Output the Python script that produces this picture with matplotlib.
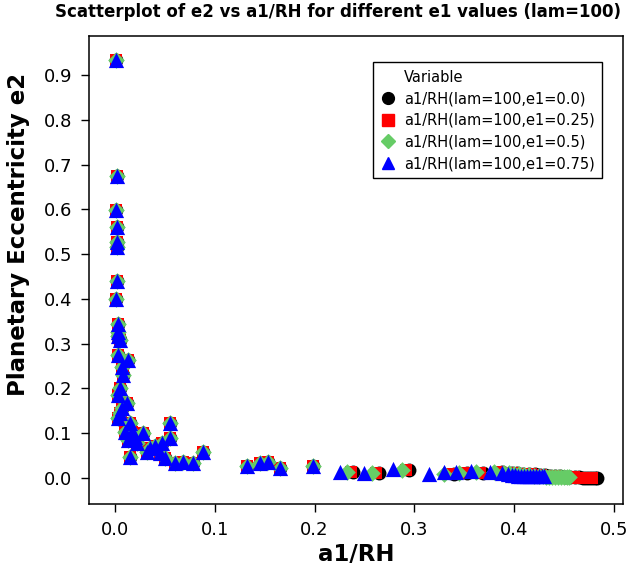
import matplotlib
matplotlib.use("Agg")
import matplotlib.pyplot as plt
from matplotlib.lines import Line2D

# points shared by all four e1 series (they sit on top of each other)
shared_x = [0.001, 0.002, 0.001, 0.002, 0.002, 0.002, 0.002, 0.001, 0.003, 0.003,
            0.005, 0.003, 0.003, 0.013, 0.007, 0.008, 0.005, 0.003, 0.012, 0.007,
            0.003, 0.005, 0.015, 0.010, 0.017, 0.028, 0.013, 0.022, 0.020, 0.035,
            0.032, 0.040, 0.015, 0.047, 0.055, 0.055, 0.045, 0.050, 0.060, 0.068,
            0.078, 0.088, 0.132, 0.145, 0.153, 0.165, 0.198]
shared_y = [0.933, 0.675, 0.598, 0.561, 0.527, 0.516, 0.440, 0.400, 0.345, 0.327,
            0.308, 0.318, 0.275, 0.263, 0.248, 0.230, 0.200, 0.185, 0.167, 0.156,
            0.134, 0.145, 0.122, 0.103, 0.103, 0.100, 0.085, 0.078, 0.092, 0.067,
            0.059, 0.072, 0.048, 0.078, 0.122, 0.089, 0.055, 0.045, 0.033, 0.036,
            0.033, 0.059, 0.027, 0.033, 0.036, 0.022, 0.027]

# tails where the series split apart at large a1/RH
e1_00_x = [0.238, 0.265, 0.295, 0.340, 0.353, 0.369, 0.388, 0.398, 0.403, 0.409,
           0.415, 0.421, 0.426, 0.431, 0.436, 0.441, 0.446, 0.451, 0.456, 0.461,
           0.465, 0.469, 0.472, 0.475, 0.478, 0.481, 0.483]
e1_00_y = [0.014, 0.012, 0.019, 0.008, 0.012, 0.012, 0.013, 0.011, 0.011, 0.010,
           0.009, 0.008, 0.007, 0.006, 0.005, 0.004, 0.004, 0.003, 0.003, 0.002,
           0.002, 0.001, 0.001, 0.001, 0.001, 0.000, 0.000]
e1_25_x = [0.236, 0.262, 0.292, 0.337, 0.350, 0.366, 0.385, 0.395, 0.400, 0.406,
           0.412, 0.417, 0.422, 0.427, 0.432, 0.437, 0.442, 0.447, 0.452, 0.456,
           0.460, 0.464, 0.468, 0.471, 0.474, 0.476, 0.478]
e1_25_y = [0.014, 0.012, 0.019, 0.008, 0.012, 0.012, 0.013, 0.011, 0.011, 0.010,
           0.009, 0.008, 0.007, 0.006, 0.005, 0.004, 0.004, 0.003, 0.003, 0.002,
           0.002, 0.001, 0.001, 0.001, 0.001, 0.001, 0.001]
e1_50_x = [0.232, 0.258, 0.288, 0.330, 0.345, 0.362, 0.380, 0.390, 0.395, 0.400,
           0.405, 0.410, 0.415, 0.420, 0.425, 0.429, 0.432, 0.435, 0.438, 0.441,
           0.444, 0.447, 0.450, 0.453, 0.455]
e1_50_y = [0.014, 0.012, 0.019, 0.009, 0.012, 0.013, 0.013, 0.012, 0.011, 0.009,
           0.008, 0.007, 0.006, 0.005, 0.004, 0.004, 0.003, 0.003, 0.003, 0.002,
           0.002, 0.002, 0.002, 0.002, 0.002]
e1_75_x = [0.225, 0.250, 0.279, 0.315, 0.330, 0.342, 0.357, 0.376, 0.388, 0.394,
           0.398, 0.401, 0.404, 0.407, 0.410, 0.413, 0.416, 0.419, 0.422, 0.425,
           0.428, 0.430]
e1_75_y = [0.014, 0.012, 0.020, 0.009, 0.013, 0.013, 0.016, 0.014, 0.011, 0.008,
           0.006, 0.006, 0.005, 0.005, 0.005, 0.004, 0.004, 0.004, 0.004, 0.004,
           0.004, 0.004]

labels = ["a1/RH(lam=100,e1=0.0)", "a1/RH(lam=100,e1=0.25)",
          "a1/RH(lam=100,e1=0.5)", "a1/RH(lam=100,e1=0.75)"]
x_ticks = [0.0, 0.1, 0.2, 0.3, 0.4, 0.5]
y_ticks = [0.0, 0.1, 0.2, 0.3, 0.4, 0.5, 0.6, 0.7, 0.8, 0.9]

series = [(e1_00_x, e1_00_y), (e1_25_x, e1_25_y), (e1_50_x, e1_50_y), (e1_75_x, e1_75_y)]
colors = ["black", "#ff0000", "#66cc66", "#0000ff"]
markers = ["o", "s", "D", "^"]
sizes = [100, 72, 72, 120]

plt.rcParams["font.family"] = "DejaVu Sans"

fig = plt.figure(figsize=(6.3, 5.75), dpi=100)
ax = fig.add_axes([0.1413, 0.1235, 0.8476, 0.8139])

handles = [Line2D([], [], linestyle="none", marker="")]
for (tx, ty), c, m, s, lab in zip(series, colors, markers, sizes, labels):
    ax.scatter(shared_x + tx, shared_y + ty, s=s, c=c, marker=m, linewidths=0, zorder=3)
    handles.append(Line2D([], [], linestyle="none", marker=m, color=c,
                          markersize=8.5 if m != "D" else 7.5))

ax.set_xlim(-0.026, 0.509)
ax.set_ylim(-0.058, 0.987)
ax.set_xticks(x_ticks)
ax.set_xticklabels([f"{v:.1f}" for v in x_ticks])
ax.set_yticks(y_ticks)
ax.set_yticklabels([f"{v:.1f}" for v in y_ticks])
ax.tick_params(direction="out", length=6, width=1, labelsize=13, pad=6)
for sp in ax.spines.values():
    sp.set_linewidth(1.1)

ax.set_xlabel("a1/RH", fontsize=16.5, fontweight="bold", labelpad=3)
fig.text(19 / 630, 1 - 234 / 575, "Planetary Eccentricity e2", rotation=90,
         ha="center", va="center", fontsize=16.5, fontweight="bold")
fig.text(338 / 630, 1 - 12 / 575, "Scatterplot of e2 vs a1/RH for different e1 values (lam=100)",
         ha="center", va="center", fontsize=12, fontweight="bold")

leg = ax.legend(handles, ["Variable"] + labels, loc="upper right",
                bbox_to_anchor=(0.974, 0.959), fontsize=10.5, frameon=True,
                fancybox=False, framealpha=1, edgecolor="black",
                handlelength=1.0, handletextpad=0.6, labelspacing=0.45,
                borderpad=0.5)
leg.get_frame().set_linewidth(1.0)

fig.savefig("out.png", dpi=100)
